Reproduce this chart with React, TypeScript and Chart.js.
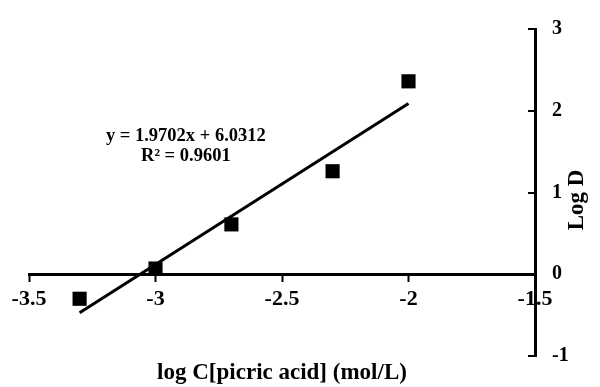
import React, { useEffect, useRef } from "react";
import { Chart, registerables } from "chart.js";

Chart.register(...registerables);

// ---- data ----
const pointsX = [-3.3, -3.0, -2.7, -2.3, -2.0];
const logD = [-0.3, 0.07, 0.61, 1.26, 2.36];
const trendX = [-3.3, -2.0];
const trendY = [-0.47, 2.09];
const xTickValues = [-3.5, -3, -2.5, -2, -1.5];
const xTickLabels = ["-3.5", "-3", "-2.5", "-2", "-1.5"];
const yTickValues = [-1, 0, 1, 2, 3];
const yTickLabels = ["-1", "0", "1", "2", "3"];
const equationLines = ["y = 1.9702x + 6.0312", "R\u00B2 = 0.9601"];
const xTitle = "log C[picric acid] (mol/L)";
const yTitle = "Log D";

const FONT = "'Liberation Serif', 'Times New Roman', serif";

const textPlugin = {
  id: "textPlugin",
  afterDraw(chart: any) {
    const { ctx, chartArea } = chart;
    const xs = chart.scales.x;
    const ys = chart.scales.y;
    ctx.save();
    // inward tick marks on the right-hand y axis
    ctx.strokeStyle = "#000";
    ctx.lineWidth = 2;
    yTickValues.forEach((v) => {
      const py = Math.round(ys.getPixelForValue(v));
      ctx.beginPath();
      ctx.moveTo(chartArea.right - 7, py);
      ctx.lineTo(chartArea.right, py);
      ctx.stroke();
    });
    ctx.fillStyle = "#000";
    ctx.textAlign = "center";
    ctx.textBaseline = "middle";
    // equation
    ctx.font = `bold 18.5px ${FONT}`;
    const ex = xs.getPixelForValue(-2.88);
    ctx.fillText(equationLines[0], ex, ys.getPixelForValue(1.69));
    ctx.fillText(equationLines[1], ex, ys.getPixelForValue(1.44));
    // x title
    ctx.font = `bold 23px ${FONT}`;
    ctx.fillText(xTitle, (chartArea.left + chartArea.right) / 2, 373);
    // y title
    ctx.translate(577, 200);
    ctx.rotate(-Math.PI / 2);
    ctx.font = `bold 23px ${FONT}`;
    ctx.fillText(yTitle, 0, 0);
    ctx.restore();
  },
};

export default function App() {
  const ref = useRef<HTMLCanvasElement | null>(null);
  useEffect(() => {
    document.body.style.margin = "0";
    const chart = new Chart(ref.current as HTMLCanvasElement, {
      type: "scatter",
      data: {
        datasets: [
          {
            label: "Log D",
            data: pointsX.map((x, i) => ({ x, y: logD[i] })),
            pointStyle: "rect",
            pointRadius: 10,
            backgroundColor: "#000",
            borderWidth: 0,
          },
          {
            label: "Linear",
            data: trendX.map((x, i) => ({ x, y: trendY[i] })),
            showLine: true,
            pointRadius: 0,
            borderColor: "#000",
            borderWidth: 3,
          },
        ],
      },
      options: {
        animation: false,
        responsive: true,
        maintainAspectRatio: false,
        layout: { padding: { left: 29, top: 22, bottom: 31, right: 0 } },
        plugins: { legend: { display: false }, tooltip: { enabled: false } },
        scales: {
          x: {
            type: "linear",
            position: { y: 0 } as any,
            min: xTickValues[0],
            max: xTickValues[xTickValues.length - 1],
            afterBuildTicks: (s: any) => {
              s.ticks = xTickValues.map((v) => ({ value: v }));
            },
            ticks: {
              color: "#000",
              font: { family: FONT, size: 22, weight: "bold" },
              padding: 6,
              maxRotation: 0,
              callback: (_v: any, i: number) => xTickLabels[i],
            },
            grid: {
              drawOnChartArea: false,
              drawTicks: true,
              tickLength: 6,
              tickWidth: 2,
              tickColor: "#000",
              color: "#000",
            },
            border: { color: "#000", width: 3 },
          },
          y: {
            type: "linear",
            position: "right",
            min: yTickValues[0],
            max: yTickValues[yTickValues.length - 1],
            afterBuildTicks: (s: any) => {
              s.ticks = yTickValues.map((v) => ({ value: v }));
            },
            afterFit: (s: any) => {
              s.width = 65;
            },
            ticks: {
              color: "#000",
              font: { family: FONT, size: 20, weight: "bold" },
              padding: 17,
              callback: (_v: any, i: number) => yTickLabels[i],
            },
            grid: { drawOnChartArea: false, drawTicks: false },
            border: { color: "#000", width: 3 },
          },
        },
      },
      plugins: [textPlugin],
    });
    return () => chart.destroy();
  }, []);
  return (
    <div style={{ position: "absolute", left: 0, top: 0, width: 600, height: 387, background: "#fff" }}>
      <canvas ref={ref} />
    </div>
  );
}
